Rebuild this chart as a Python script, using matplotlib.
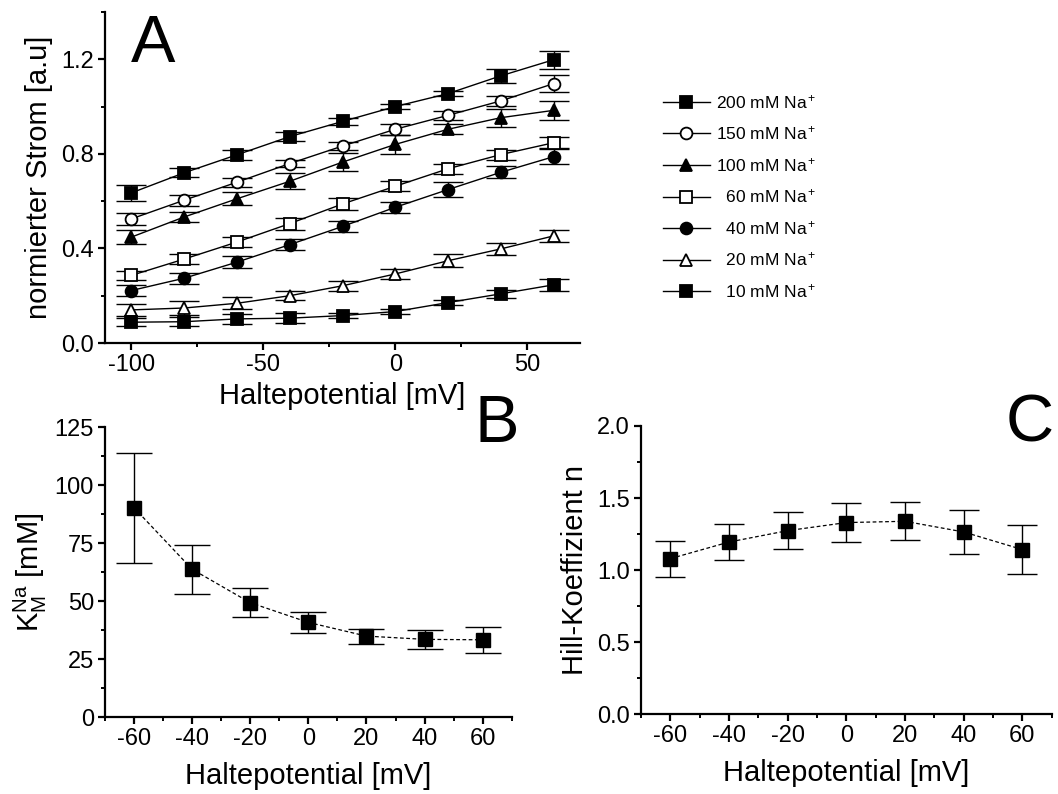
import matplotlib
matplotlib.use("Agg")
import matplotlib.pyplot as plt
from matplotlib.ticker import MultipleLocator

plt.rcParams['font.family'] = ['Liberation Sans', 'DejaVu Sans']
plt.rcParams['mathtext.fontset'] = 'custom'
plt.rcParams['mathtext.rm'] = 'Liberation Sans'
plt.rcParams['mathtext.it'] = 'Liberation Sans'
plt.rcParams['axes.unicode_minus'] = False

# ---------------- data ----------------
volt_a = [-100, -80, -60, -40, -20, 0, 20, 40, 60]
labels_a = ["200 mM Na$^+$", "150 mM Na$^+$", "100 mM Na$^+$", "  60 mM Na$^+$",
            "  40 mM Na$^+$", "  20 mM Na$^+$", "  10 mM Na$^+$"]
na200 = [0.635, 0.72, 0.796, 0.873, 0.937, 1.0, 1.055, 1.13, 1.198]
na150 = [0.525, 0.604, 0.68, 0.759, 0.833, 0.904, 0.963, 1.024, 1.097]
na100 = [0.448, 0.533, 0.61, 0.684, 0.765, 0.84, 0.904, 0.953, 0.984]
na60 = [0.286, 0.355, 0.427, 0.505, 0.588, 0.663, 0.737, 0.797, 0.847]
na40 = [0.222, 0.274, 0.342, 0.416, 0.493, 0.574, 0.649, 0.722, 0.788]
na20 = [0.14, 0.148, 0.168, 0.2, 0.242, 0.292, 0.348, 0.398, 0.453]
na10 = [0.088, 0.09, 0.102, 0.105, 0.116, 0.133, 0.171, 0.208, 0.246]
err200 = [0.033, 0.019, 0.02, 0.018, 0.014, 0.012, 0.012, 0.03, 0.037]
err150 = [0.025, 0.023, 0.019, 0.016, 0.016, 0.024, 0.019, 0.02, 0.035]
err100 = [0.028, 0.02, 0.028, 0.034, 0.037, 0.04, 0.022, 0.038, 0.041]
err60 = [0.019, 0.02, 0.023, 0.025, 0.025, 0.022, 0.022, 0.021, 0.023]
err40 = [0.022, 0.024, 0.025, 0.024, 0.023, 0.023, 0.03, 0.025, 0.032]
err20 = [0.025, 0.028, 0.025, 0.018, 0.02, 0.02, 0.028, 0.027, 0.025]
err10 = [0.018, 0.02, 0.02, 0.02, 0.01, 0.01, 0.01, 0.018, 0.026]

volt_bc = [-60, -40, -20, 0, 20, 40, 60]
km_na = [90.3, 63.8, 49.4, 40.9, 35.0, 33.6, 33.4]
km_err = [23.8, 10.6, 6.2, 4.5, 3.2, 4.0, 5.7]
hill_n = [1.08, 1.195, 1.274, 1.33, 1.339, 1.265, 1.143]
hill_err = [0.125, 0.125, 0.128, 0.137, 0.132, 0.154, 0.172]

# ---------------- figure ----------------
fig = plt.figure(figsize=(10.58, 7.94), dpi=100)
W, H = 1058.0, 794.0


def box(l, r, t, b):
    return [l / W, 1 - b / H, (r - l) / W, (b - t) / H]


TICK_FS = 17
LAB_FS = 21


def style_axes(ax):
    for s in ['top', 'right']:
        ax.spines[s].set_visible(False)
    for s in ['left', 'bottom']:
        ax.spines[s].set_linewidth(1.6)
    ax.tick_params(which='major', direction='out', length=5, width=1.6,
                   labelsize=TICK_FS, pad=3)
    ax.tick_params(which='minor', direction='out', length=3, width=1.4)


# Panel A
axA = fig.add_axes(box(105, 580, 12, 343))
series = [na200, na150, na100, na60, na40, na20, na10]
errs = [err200, err150, err100, err60, err40, err20, err10]
mk = ['s', 'o', '^', 's', 'o', '^', 's']
face = ['black', 'white', 'black', 'white', 'black', 'white', 'black']
handles = []
for y, e, m, fc, lab in zip(series, errs, mk, face, labels_a):
    axA.errorbar(volt_a, y, yerr=e, fmt='none', ecolor='black',
                 elinewidth=1.0, capsize=11, capthick=1.0, zorder=2)
    ln, = axA.plot(volt_a, y, color='black', lw=1.0, marker=m, ms=8.5,
                   mfc=fc, mec='black', mew=1.3, zorder=3, label=lab)
    handles.append(ln)
axA.set_xlim(-110, 70)
axA.set_ylim(0, 1.4)
axA.xaxis.set_major_locator(MultipleLocator(50))
axA.xaxis.set_minor_locator(MultipleLocator(25))
axA.yaxis.set_major_locator(MultipleLocator(0.4))
axA.yaxis.set_minor_locator(MultipleLocator(0.2))
axA.yaxis.set_major_formatter(matplotlib.ticker.FormatStrFormatter('%.1f'))
style_axes(axA)
axA.set_xlabel('Haltepotential [mV]', fontsize=LAB_FS, labelpad=4)
axA.set_ylabel('normierter Strom [a.u]', fontsize=LAB_FS, labelpad=6)

fig.legend(handles=handles, labels=labels_a, loc='upper left',
           bbox_to_anchor=(663 / W, 1 - 93 / H), frameon=False,
           fontsize=12.5, handlelength=2.7, handletextpad=0.35,
           labelspacing=0.78, markerscale=1.0, borderaxespad=0, borderpad=0)

# Panel B
axB = fig.add_axes(box(105, 511.7, 427.3, 717.3))
axB.errorbar(volt_bc, km_na, yerr=km_err, fmt='none', ecolor='black',
             elinewidth=1.0, capsize=13, capthick=1.0, zorder=2)
axB.plot(volt_bc, km_na, color='black', lw=0.9, ls=(0, (3, 2)), marker='s',
         ms=9.5, mfc='black', mec='black', zorder=3)
axB.set_xlim(-70, 70)
axB.set_ylim(0, 125)
axB.xaxis.set_major_locator(MultipleLocator(20))
axB.xaxis.set_minor_locator(MultipleLocator(10))
axB.yaxis.set_major_locator(MultipleLocator(25))
axB.yaxis.set_minor_locator(MultipleLocator(12.5))
style_axes(axB)
axB.set_xlabel('Haltepotential [mV]', fontsize=LAB_FS, labelpad=8)
axB.set_ylabel(r'K$_\mathregular{M}^\mathregular{Na}$ [mM]', fontsize=LAB_FS, labelpad=4)

# Panel C
axC = fig.add_axes(box(641, 1051.6, 426, 714.3))
axC.errorbar(volt_bc, hill_n, yerr=hill_err, fmt='none', ecolor='black',
             elinewidth=1.0, capsize=11, capthick=1.0, zorder=2)
axC.plot(volt_bc, hill_n, color='black', lw=0.9, ls=(0, (3, 2)), marker='s',
         ms=9.5, mfc='black', mec='black', zorder=3)
axC.set_xlim(-70, 70)
axC.set_ylim(0, 2.0)
axC.xaxis.set_major_locator(MultipleLocator(20))
axC.xaxis.set_minor_locator(MultipleLocator(10))
axC.yaxis.set_major_locator(MultipleLocator(0.5))
axC.yaxis.set_minor_locator(MultipleLocator(0.25))
axC.yaxis.set_major_formatter(matplotlib.ticker.FormatStrFormatter('%.1f'))
style_axes(axC)
axC.set_xlabel('Haltepotential [mV]', fontsize=LAB_FS, labelpad=8)
axC.set_ylabel('Hill-Koeffizient n', fontsize=LAB_FS, labelpad=6)

# Panel letters
fig.text(131 / W, 1 - 62 / H, 'A', fontsize=48, va='baseline', ha='left')
fig.text(475 / W, 1 - 442 / H, 'B', fontsize=48, va='baseline', ha='left')
fig.text(1006 / W, 1 - 442 / H, 'C', fontsize=48, va='baseline', ha='left')

fig.savefig('out.png', dpi=100)
